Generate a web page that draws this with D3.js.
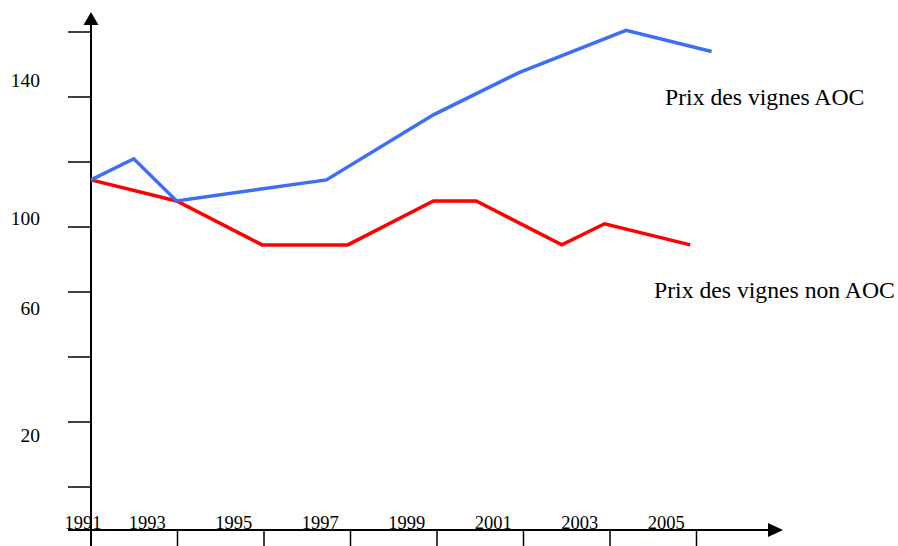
<html><head>
<title>Prix des vignes</title>
<script src="https://d3js.org/d3.v7.min.js"></script>
<style>
  body { margin: 0; background: #fff; }
  text { font-family: "Liberation Serif", "Times New Roman", serif; fill: #000; }
</style>
</head>
<body>
<svg id="chart" width="898" height="546"></svg>

<script>
// years and values (index units of the y axis)
const aocYears  = [1991, 1992, 1993, 1996.5, 1999, 2001, 2003.5, 2005.5];
const aocValues = [104.5, 111, 98, 104.5, 124.5, 137.5, 150.5, 144];

const nonAocYears  = [1991, 1993, 1995, 1997, 1999, 2000, 2002, 2003, 2005];
const nonAocValues = [104.5, 98, 84.5, 84.5, 98, 98, 84.5, 91, 84.5];

const xTickYears = [1991, 1993, 1995, 1997, 1999, 2001, 2003, 2005];
const yTickValues = [10, 30, 50, 70, 90, 110, 130, 150];
const yLabels = ["20", "60", "100", "140"];
const yLabelAt = [23.7, 62.9, 90.5, 133.1];   // where the (odd) labels sit on the axis
const seriesNames = ["Prix des vignes AOC", "Prix des vignes non AOC"];

const svg = d3.select("#chart");

// scales
const x = d3.scaleLinear().domain([1991, 2005]).range([91, 690.2]);      // curves
const xAxisScale = d3.scaleLinear().domain([1991, 2005]).range([91, 696.5]); // tick marks
const y = d3.scaleLinear().domain([10, 150]).range([487, 32]);
const axisY = 530;

// 1. axes (hand-drawn style: plain lines + arrow heads)
svg.append("line")
   .attr("x1", 68).attr("x2", 769).attr("y1", axisY).attr("y2", axisY)
   .attr("stroke", "black").attr("stroke-width", 2);
svg.append("path")
   .attr("d", "M768," + (axisY - 7) + "L783," + axisY + "L768," + (axisY + 7) + "Z")
   .attr("fill", "black");

svg.append("line")
   .attr("x1", x(1991)).attr("x2", x(1991)).attr("y1", 546).attr("y2", 24)
   .attr("stroke", "black").attr("stroke-width", 2);
svg.append("path")
   .attr("d", "M" + (x(1991) - 7.5) + ",25L" + x(1991) + ",12L" + (x(1991) + 7.5) + ",25Z")
   .attr("fill", "black");

// y ticks point to the left
svg.selectAll("line.ytick").data(yTickValues)
   .join("line")
   .attr("class", "ytick")
   .attr("x1", 68).attr("x2", 91)
   .attr("y1", d => y(d)).attr("y2", d => y(d))
   .attr("stroke", "black").attr("stroke-width", 1.5);

// x ticks hang below the axis
svg.selectAll("line.xtick").data(xTickYears.slice(1))
   .join("line")
   .attr("class", "xtick")
   .attr("x1", d => xAxisScale(d)).attr("x2", d => xAxisScale(d))
   .attr("y1", axisY).attr("y2", 546)
   .attr("stroke", "black").attr("stroke-width", 1.5);

// 2. tick labels
svg.selectAll("text.ylab").data(yLabels)
   .join("text")
   .attr("class", "ylab")
   .attr("x", 40)
   .attr("y", (d, i) => y(yLabelAt[i]))
   .attr("text-anchor", "end")
   .style("font-size", "19.5px")
   .text(d => d);

svg.selectAll("text.xlab").data(xTickYears)
   .join("text")
   .attr("class", "xlab")
   .attr("x", d => Math.max(xAxisScale(d - 0.7), 83))
   .attr("y", 529)
   .attr("text-anchor", "middle")
   .style("font-size", "18.5px")
   .text(d => d);

// 3. the two curves
const line = d3.line().x(d => x(d[0])).y(d => y(d[1]));

svg.append("path")
   .datum(d3.zip(nonAocYears, nonAocValues))
   .attr("d", line)
   .attr("fill", "none")
   .attr("stroke", "#ff0000")
   .attr("stroke-width", 3.5);

svg.append("path")
   .datum(d3.zip(aocYears, aocValues))
   .attr("d", line)
   .attr("fill", "none")
   .attr("stroke", "#3d6ef8")
   .attr("stroke-width", 3.5);

// 4. series names
svg.append("text").attr("x", 665).attr("y", 105)
   .style("font-size", "23.7px").text(seriesNames[0]);
svg.append("text").attr("x", 654).attr("y", 298)
   .style("font-size", "23.7px").text(seriesNames[1]);
</script>
</body>
</html>
